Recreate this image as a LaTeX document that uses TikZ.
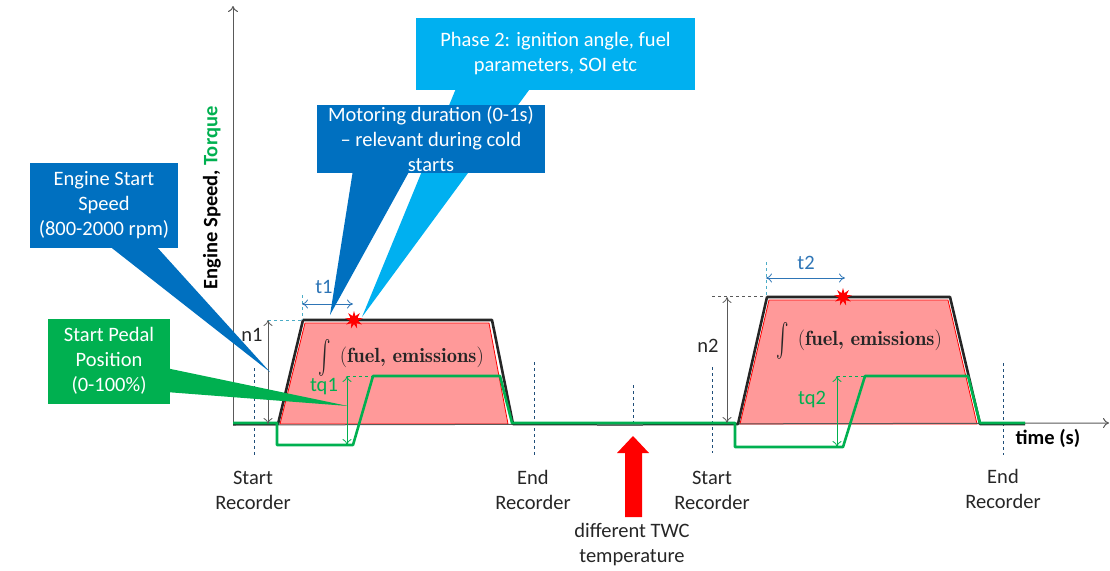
\documentclass[tikz,border=0pt]{standalone}
\usepackage{amsmath}
\usepackage{fontspec}
\setmainfont{Carlito}
\usetikzlibrary{shapes.geometric,arrows.meta}
\definecolor{dblue}{HTML}{0070C0}
\definecolor{lblue}{HTML}{00B0F0}
\definecolor{mgreen}{HTML}{00B050}
\definecolor{pinkfill}{HTML}{FF9999}
\definecolor{axisgray}{HTML}{595959}
\definecolor{curveblack}{HTML}{262626}
\definecolor{dimblue}{HTML}{2E75B6}
\definecolor{teal}{HTML}{4BACC6}
\definecolor{markblue}{HTML}{1F4E79}
\newcommand{\integtext}{\raisebox{-0.2em}{\scalebox{0.9}[1.6]{$\int$}}\hspace{0.45em}$(\hbox{\fontfamily{lmr}\bfseries\selectfont fuel, emissions})$}
\begin{document}
\begin{tikzpicture}[x=1pt,y=-1pt,
  txt/.style={font=\fontsize{20.5}{25}\selectfont, inner sep=0pt, align=center},
  callout/.style={txt, text=white, minimum width=#1},
  axisline/.style={axisgray, line width=1pt, -{To[length=6pt,width=10pt]}},
  speed/.style={curveblack, line width=2.6pt, line join=round},
  torque/.style={mgreen, line width=2.6pt, line join=round},
  area/.style={fill=pinkfill, draw=red, line width=0.8pt},
  dimn/.style={axisgray, line width=0.8pt, {To[length=6pt,width=9pt]}-{To[length=6pt,width=9pt]}},
  dimt/.style={dimblue, line width=0.8pt, {To[length=6pt,width=9pt]}-{To[length=6pt,width=9pt]}},
  dimq/.style={mgreen, line width=0.8pt, {To[length=6pt,width=9pt]}-{To[length=6pt,width=9pt]}},
  guide/.style={dashed, line width=0.7pt},
  marker/.style={markblue, dashed, line width=0.7pt},
  spark/.style={star, star points=9, star point ratio=2.2, fill=red, draw=none, minimum size=18pt, inner sep=0pt},
  integ/.style={inner sep=0pt, text=curveblack, font=\fontsize{20.5}{22}\selectfont}
]
\useasboundingbox (0,0) rectangle (1110,570);

% ---- shaded areas ----
\fill[area] (280,424) -- (305,323) -- (489,323) -- (508,424) -- cycle;
\fill[area] (740,424) -- (769,300) -- (948,300) -- (977,424) -- cycle;

% ---- axes ----
\coordinate (O) at (233,425);
\coordinate (ytip) at (233,6);
\coordinate (xtip) at (1109,423);
\draw[axisline] (O) -- (ytip);
\draw[axisline] (O) -- (xtip);

% ---- recorder markers ----
\draw[marker] (254,368) -- (254,455);
\draw[marker] (534,362) -- (534,455);
\draw[marker] (633,385) -- (633,426);
\draw[marker] (712,367) -- (712,453);
\draw[marker] (1003,363) -- (1003,455);

% ---- engine speed ----
\draw[speed] (233,424) -- (278,424) -- (303,320) -- (492,320) -- (513,424) -- (735,424)
  -- (738,424) -- (767,297) -- (950,297) -- (980,424) -- (1025,424);
\draw[curveblack!70, line width=2.6pt] (597,425) -- (643,425);

% ---- torque ----
\draw[torque] (233,423) -- (277,423) -- (277,445) -- (353,445) -- (373,376) -- (500,376)
  -- (512,423) -- (735,423) -- (735,447) -- (843,447) -- (865,376) -- (968,376)
  -- (980,423) -- (1025,423);

% ---- pulse 1 dimensions ----
\draw[guide, teal] (268,320) -- (303,320);
\draw[guide, teal] (302,295) -- (302,320);
\draw[dimn] (268,320) -- (268,424);
\node[txt, text=curveblack] (n1) at (252,335) {n1};
\draw[dimt] (302,304) -- (353,304);
\node[txt, text=dimblue] (t1) at (324,287) {t1};
\draw[guide, mgreen] (347,376) -- (373,376);
\draw[dimq] (347,376) -- (347,445);
\node[txt, text=mgreen] (tq1) at (324,387) {tq1};
\node[integ] (int1) at (401,358) {\integtext};

% ---- pulse 2 dimensions ----
\draw[guide, axisgray] (712,296) -- (767,296);
\draw[guide, teal] (766,262) -- (766,297);
\draw[dimn] (727,297) -- (727,423);
\node[txt, text=curveblack] (n2) at (708,346) {n2};
\draw[dimt] (766,278) -- (845,278);
\node[txt, text=dimblue] (t2) at (806,263) {t2};
\draw[guide, mgreen] (837,376) -- (865,376);
\draw[dimq] (837,376) -- (837,447);
\node[txt, text=mgreen] (tq2) at (812,399) {tq2};
\node[integ] (int2) at (859,341) {\integtext};

% ---- sparks ----
\node[spark] (s1) at (354,320) {};
\node[spark] (s2) at (843,297) {};

% ---- axis labels ----
\node[txt, rotate=90, font=\fontsize{20.5}{25}\selectfont\bfseries] (ylab) at (212,198) {Engine Speed, \textcolor{mgreen}{Torque}};
\node[txt, font=\fontsize{20.5}{25}\selectfont\bfseries] (xlab) at (1048,438) {time (s)};

% ---- bottom labels ----
\node[txt, text=curveblack] (sr1) at (253,490) {Start\\Recorder};
\node[txt, text=curveblack] (er1) at (533,490) {End\\Recorder};
\node[txt, text=curveblack] (sr2) at (712,490) {Start\\Recorder};
\node[txt, text=curveblack] (er2) at (1003,489) {End\\Recorder};
\node[txt, text=curveblack] (twc) at (632,545) {different TWC\\temperature};

% ---- red arrow ----
\fill[red] (633,436) -- (649,453) -- (642,453) -- (642,517) -- (625,517) -- (625,453) -- (617,453) -- cycle;

% ---- callouts ----
\coordinate (tipES) at (270,372);
\coordinate (tipSP) at (348,406);
\coordinate (tipMD) at (330,315);
\coordinate (tipPH) at (362,317);

\fill[lblue] (457,86) -- (tipPH) -- (532,86) -- cycle;
\node[callout=279pt, fill=lblue, minimum height=72pt] (ph) at (555.5,54) {Phase 2: ignition angle, fuel\\parameters, SOI etc};

\fill[dblue] (353,170) -- (tipMD) -- (410,170) -- cycle;
\node[callout=228pt, fill=dblue, minimum height=68pt] (md) at (431,139) {Motoring duration (0-1s)\\– relevant during cold\\starts};

\fill[dblue] (108,245) -- (tipES) -- (155,245) -- cycle;
\node[callout=148pt, fill=dblue, minimum height=85pt] (es) at (104,205.5) {Engine Start\\Speed\\(800-2000 rpm)};

\fill[mgreen] (166,368) -- (tipSP) -- (166,392) -- cycle;
\node[callout=122pt, fill=mgreen, minimum height=85pt] (sp) at (109,361) {Start Pedal\\Position\\(0-100\%)};

\end{tikzpicture}
\end{document}
